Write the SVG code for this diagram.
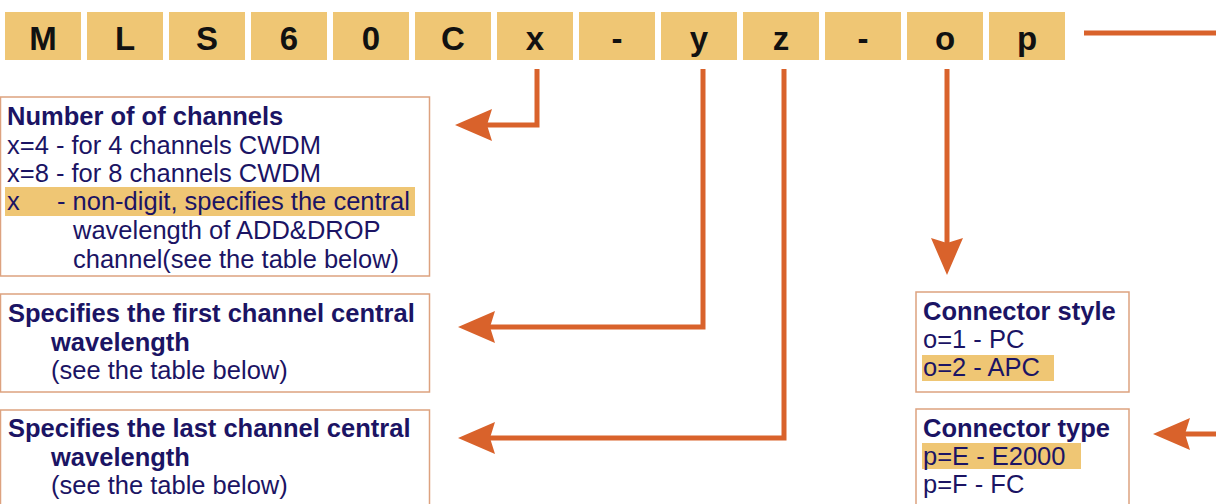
<svg xmlns="http://www.w3.org/2000/svg" width="1216" height="504" viewBox="0 0 1216 504">
<style>
.code rect{fill:#EFC674}
.code text{font-family:"Liberation Sans",Arial,sans-serif;font-weight:bold;font-size:33px;fill:#111;text-anchor:middle}
.box{fill:#fff;stroke:#DDA27F;stroke-width:1.5}
.hl{fill:#EFC674}
.t{font-family:"Liberation Sans",Arial,sans-serif;font-size:25.5px;fill:#1B1464}
.b{font-weight:bold}
.conn path{fill:none;stroke:#D9622B;stroke-width:5}
</style>
<defs>
<marker id="arr" viewBox="0 0 37 32" refX="5" refY="16" markerWidth="37" markerHeight="32" markerUnits="userSpaceOnUse" orient="auto">
<path d="M0,0 L37,16 L0,32 L5,16 Z" fill="#D9622B"/>
</marker>
</defs>
<rect width="1216" height="504" fill="#fff"/>
<g id="code" class="code">
<rect x="5" y="12" width="76" height="48"/><text x="43" y="50">M</text>
<rect x="87" y="12" width="76" height="48"/><text x="125" y="50">L</text>
<rect x="169" y="12" width="76" height="48"/><text x="207" y="50">S</text>
<rect x="251" y="12" width="76" height="48"/><text x="289" y="50">6</text>
<rect x="333" y="12" width="76" height="48"/><text x="371" y="50">0</text>
<rect x="415" y="12" width="76" height="48"/><text x="453" y="50">C</text>
<rect x="497" y="12" width="76" height="48"/><text x="535" y="50">x</text>
<rect x="579" y="12" width="76" height="48"/><text x="617" y="50">-</text>
<rect x="661" y="12" width="76" height="48"/><text x="699" y="50">y</text>
<rect x="743" y="12" width="76" height="48"/><text x="781" y="50">z</text>
<rect x="825" y="12" width="76" height="48"/><text x="863" y="50">-</text>
<rect x="907" y="12" width="76" height="48"/><text x="945" y="50">o</text>
<rect x="989" y="12" width="76" height="48"/><text x="1027" y="50">p</text>
</g>
<g id="connectors" class="conn">
<path d="M537,69 V125 H487" marker-end="url(#arr)"/>
<path d="M703,69 V327 H490" marker-end="url(#arr)"/>
<path d="M784,69 V438 H490" marker-end="url(#arr)"/>
<path d="M947,69 V243" marker-end="url(#arr)"/>
<path d="M1084,33 H1220"/>
<path d="M1222,434 H1185" marker-end="url(#arr)"/>
</g>
<g id="channels">
<rect class="box" x="0.5" y="97" width="429" height="179"/>
<rect class="hl" x="5" y="187" width="410" height="29"/>
<text class="t b" x="7" y="125">Number of of channels</text>
<text class="t" x="7" y="154">x=4 - for 4 channels CWDM</text>
<text class="t" x="7" y="182">x=8 - for 8 channels CWDM</text>
<text class="t" x="7" y="210">x</text>
<text class="t" x="57" y="210">- non-digit, specifies the central</text>
<text class="t" x="73" y="239">wavelength of ADD&amp;DROP</text>
<text class="t" x="73" y="268">channel(see the table below)</text>
</g>
<g id="first">
<rect class="box" x="0.5" y="294" width="429" height="98"/>
<text class="t b" x="8" y="322">Specifies the first channel central</text>
<text class="t b" x="51" y="351">wavelength</text>
<text class="t" x="51" y="379">(see the table below)</text>
</g>
<g id="last">
<rect class="box" x="0.5" y="410" width="429" height="110"/>
<text class="t b" x="8" y="437">Specifies the last channel central</text>
<text class="t b" x="51" y="466">wavelength</text>
<text class="t" x="51" y="494">(see the table below)</text>
</g>
<g id="style">
<rect class="box" x="916" y="292" width="213" height="100"/>
<rect class="hl" x="922" y="355" width="132" height="26"/>
<text class="t b" x="923" y="320">Connector style</text>
<text class="t" x="923" y="348">o=1 - PC</text>
<text class="t" x="923" y="376">o=2 - APC</text>
</g>
<g id="type">
<rect class="box" x="916" y="409" width="213" height="110"/>
<rect class="hl" x="922" y="443" width="159" height="26"/>
<text class="t b" x="923" y="437">Connector type</text>
<text class="t" x="923" y="465">p=E - E2000</text>
<text class="t" x="923" y="493">p=F - FC</text>
</g>
</svg>
